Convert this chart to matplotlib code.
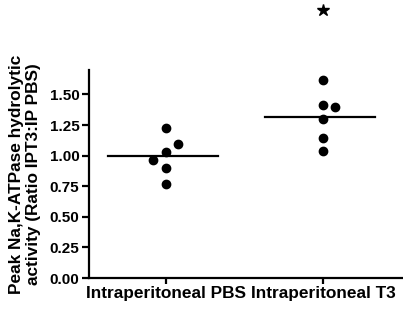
import numpy as np
import matplotlib
matplotlib.use("Agg")
import matplotlib.pyplot as plt

plt.rcParams['font.family'] = ['Liberation Sans', 'DejaVu Sans']
plt.rcParams['font.weight'] = 'bold'

# data
groups = ["Intraperitoneal PBS", "Intraperitoneal T3"]
pbs = [1.23, 1.095, 1.033, 0.962, 0.90, 0.765]
t3 = [1.618, 1.416, 1.40, 1.298, 1.145, 1.038]
yticks = [0.00, 0.25, 0.50, 0.75, 1.00, 1.25, 1.50]
star_y = 2.19  # significance star above T3

# horizontal scatter of the dots (layout only)
pbs_dx = [0, 0.08, 0, -0.08, 0, 0]
t3_dx = [0, 0, 0.08, 0, 0, 0]

fig = plt.figure(figsize=(4.03, 3.09), dpi=100)
ax = fig.add_axes([89 / 403, 31 / 309, 314 / 403, 208 / 309])

for i, (vals, dx) in enumerate([(pbs, pbs_dx), (t3, t3_dx)]):
    x = np.full(len(vals), i) + np.array(dx)
    ax.plot(x, vals, 'o', color='black', markersize=6, clip_on=False)
    m = np.mean(vals)
    ax.plot([i - 0.37, i + 0.33], [m, m], color='black', lw=1.6)

ax.plot([1], [star_y], marker='*', color='black', markersize=9, clip_on=False)

ax.set_xlim(-0.49, 1.51)
ax.set_ylim(0, 1.70)
ax.set_xticks([0, 1])
ax.set_xticklabels(groups, fontsize=12.4, fontweight='bold')
ax.set_yticks(yticks)
ax.set_yticklabels([f"{v:.2f}" for v in yticks], fontsize=11, fontweight='bold')
ax.set_ylabel("Peak Na,K-ATPase hydrolytic\nactivity (Ratio IPT3:IP PBS)",
              fontsize=12.4, fontweight='bold', linespacing=1.2, labelpad=6)

for s in ['top', 'right']:
    ax.spines[s].set_visible(False)
for s in ['left', 'bottom']:
    ax.spines[s].set_linewidth(1.6)
ax.tick_params(axis='y', width=1.6, length=5, pad=2)
ax.tick_params(axis='x', width=1.6, length=4, pad=2)

fig.savefig("out.png", dpi=100)
